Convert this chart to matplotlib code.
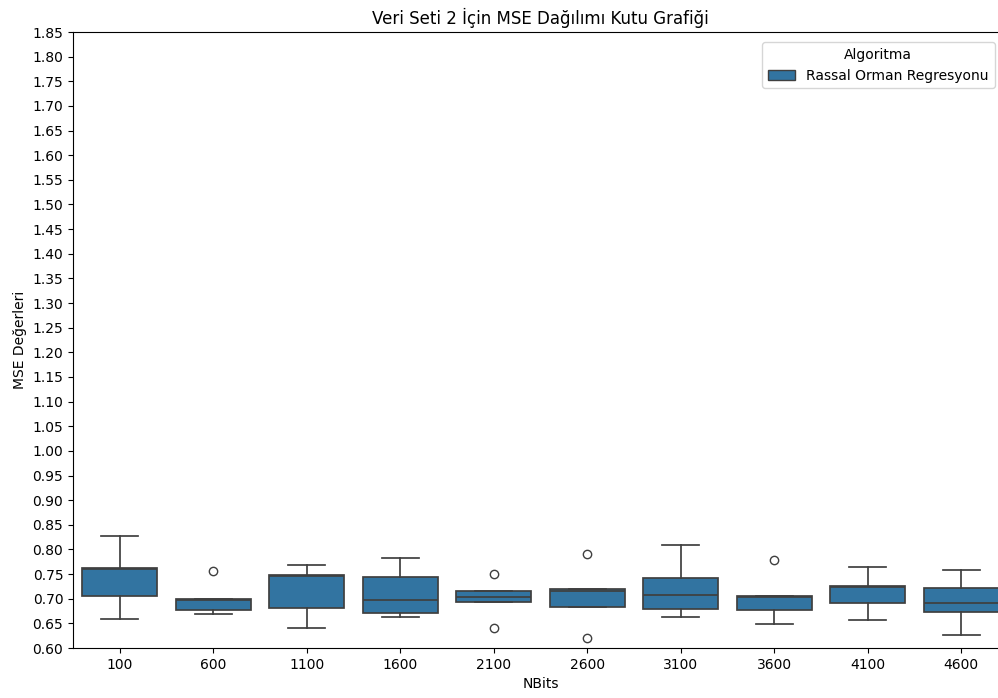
import matplotlib.pyplot as plt
from matplotlib.patches import Patch

# NBits grubları ve her grup için kutu grafiği istatistikleri
nbits = ["100", "600", "1100", "1600", "2100", "2600", "3100", "3600", "4100", "4600"]
q1 = [0.706, 0.677, 0.681, 0.672, 0.694, 0.684, 0.680, 0.677, 0.691, 0.673]
medians = [0.760, 0.697, 0.747, 0.697, 0.704, 0.716, 0.707, 0.704, 0.724, 0.692]
q3 = [0.762, 0.699, 0.749, 0.744, 0.7155, 0.720, 0.743, 0.706, 0.726, 0.721]
whislo = [0.658, 0.670, 0.641, 0.662, 0.694, 0.684, 0.6625, 0.649, 0.657, 0.626]
whishi = [0.828, 0.699, 0.768, 0.783, 0.7155, 0.720, 0.809, 0.706, 0.764, 0.759]
fliers = [[], [0.756], [], [], [0.750, 0.641], [0.791, 0.620], [], [0.779], [], []]

box_color = "#3274a1"
line_color = "#3f3f3f"

stats = []
for i, label in enumerate(nbits):
    stats.append({
        "label": label,
        "q1": q1[i],
        "med": medians[i],
        "q3": q3[i],
        "whislo": whislo[i],
        "whishi": whishi[i],
        "fliers": fliers[i],
    })

fig = plt.figure(figsize=(9.98, 6.98), dpi=100)
ax = fig.add_axes([73 / 998, 1 - 648 / 698, 935 / 998, 616 / 698])

ax.bxp(
    stats,
    positions=range(len(nbits)),
    widths=0.8,
    capwidths=0.4,
    patch_artist=True,
    boxprops=dict(facecolor=box_color, edgecolor=line_color, linewidth=1.25),
    medianprops=dict(color=line_color, linewidth=1.25),
    whiskerprops=dict(color=line_color, linewidth=1.25),
    capprops=dict(color=line_color, linewidth=1.25),
    flierprops=dict(marker="o", markerfacecolor="none", markeredgecolor=line_color,
                    markersize=6, linewidth=0),
)

ax.set_xlim(-0.5, len(nbits) - 0.5)
ax.set_ylim(0.60, 1.85)
ax.set_yticks([0.60 + 0.05 * k for k in range(26)])
ax.set_yticklabels([f"{0.60 + 0.05 * k:.2f}" for k in range(26)])
ax.set_xticks(range(len(nbits)))
ax.set_xticklabels(nbits)

ax.set_title("Veri Seti 2 İçin MSE Dağılımı Kutu Grafiği", fontsize=12)
ax.set_xlabel("NBits")
ax.set_ylabel("MSE Değerleri")

handles = [Patch(facecolor=box_color, edgecolor=line_color, label="Rassal Orman Regresyonu")]
ax.legend(handles=handles, title="Algoritma", loc="upper right",
          bbox_to_anchor=(0.993, 0.995))

fig.savefig("out.png", dpi=100)
